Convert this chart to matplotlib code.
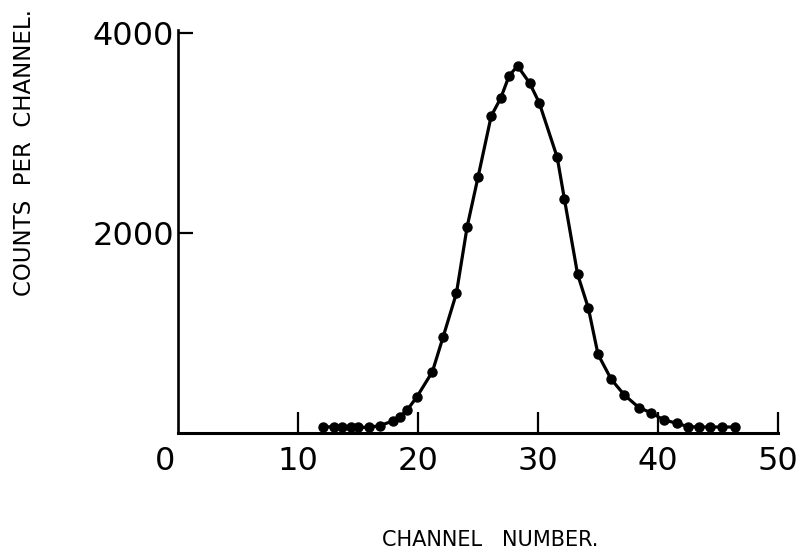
import matplotlib
matplotlib.use("Agg")
import matplotlib.pyplot as plt

# Pulse-height spectrum: counts recorded in each channel
channel = [12.1, 13.0, 13.7, 14.4, 15.0, 15.9, 16.8, 17.9, 18.5, 19.1, 19.9,
           21.2, 22.1, 23.2, 24.1, 25.0, 26.1, 26.9, 27.6, 28.3, 29.3, 30.1,
           31.6, 32.2, 33.3, 34.2, 35.0, 36.1, 37.2, 38.4, 39.4, 40.5, 41.6,
           42.5, 43.4, 44.3, 45.3, 46.4]
counts = [63, 60, 60, 60, 57, 57, 73, 120, 165, 230, 360,
          613, 963, 1397, 2065, 2557, 3170, 3350, 3575, 3670, 3500, 3303,
          2757, 2340, 1587, 1247, 787, 537, 380, 255, 203, 130, 97,
          63, 60, 60, 60, 60]

x_ticks = [10, 20, 30, 40, 50]
x_tick_labels = ["10", "20", "30", "40", "50"]
y_ticks = [2000, 4000]
y_tick_labels = ["2000", "4000"]

W, H = 803, 554
fig = plt.figure(figsize=(W / 100, H / 100), dpi=100)
ax = fig.add_axes([178 / W, (H - 433) / H, 600 / W, 403 / H])

ax.plot(channel, counts, color="black", lw=2.3, zorder=2,
        solid_joinstyle="round")
ax.plot(channel, counts, "o", color="black", ms=6.5, zorder=3)

ax.set_xlim(0, 50)
ax.set_ylim(0, 4030)

for side in ("top", "right"):
    ax.spines[side].set_visible(False)
ax.spines["bottom"].set_linewidth(2.2)
ax.spines["left"].set_linewidth(1.9)

ax.set_xticks(x_ticks)
ax.set_xticklabels(x_tick_labels)
ax.set_yticks(y_ticks)
ax.set_yticklabels(y_tick_labels)
ax.tick_params(axis="x", direction="in", length=15, width=1.6, pad=9,
               labelsize=23)
ax.tick_params(axis="y", direction="in", length=11, width=1.6, pad=3,
               labelsize=23)

ax.annotate("0", xy=(0, 0), xytext=(-9, -9), textcoords="offset points",
            ha="center", va="top", fontsize=23)

ax.set_xlabel("CHANNEL   NUMBER.", fontsize=15, va="center")
ax.xaxis.set_label_coords(0.52, -(540 - 433) / 403)
ax.set_ylabel("COUNTS  PER  CHANNEL.", fontsize=16.5, va="center", ha="center")
ax.yaxis.set_label_coords(-(178 - 25) / 600, (433 - 152) / 403)

fig.savefig("out.png", dpi=100, facecolor="white")
